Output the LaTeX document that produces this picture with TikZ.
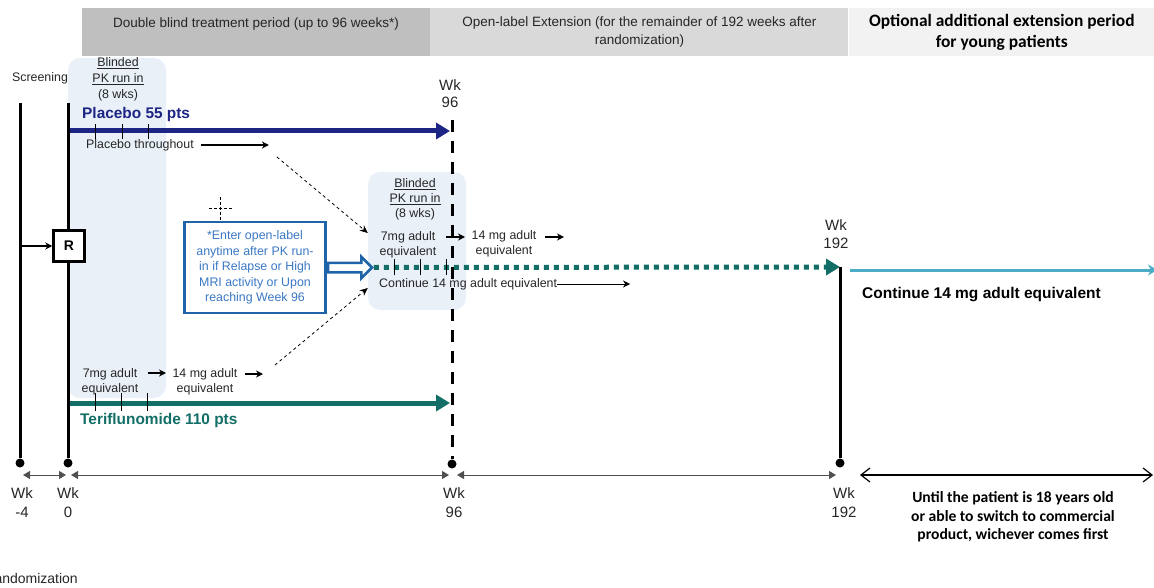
\documentclass[tikz,border=0pt]{standalone}
\usepackage{fontspec}
\setmainfont{Liberation Sans}
\newfontfamily\calibri{Carlito}
\usetikzlibrary{arrows.meta,positioning,shapes.arrows}
\definecolor{hdrdark}{RGB}{191,191,191}
\definecolor{hdrmid}{RGB}{217,217,217}
\definecolor{hdrlight}{RGB}{242,242,242}
\definecolor{pkfill}{RGB}{234,240,248}
\definecolor{navy}{RGB}{28,36,132}
\definecolor{teri}{RGB}{18,110,102}
\definecolor{ext}{RGB}{75,172,198}
\definecolor{notebd}{RGB}{31,100,168}
\definecolor{notetx}{RGB}{58,120,196}
\definecolor{spangray}{RGB}{80,80,80}
\definecolor{txt}{RGB}{38,38,38}
\tikzset{
    hdr/.style =    {rectangle,
                    minimum height=48pt,
                    inner sep=0pt,
                    align=center,
                    text=txt,
                    font=\fontsize{13.5}{18}\selectfont},
    lbl/.style =    {inner sep=0pt,
                    align=center,
                    text=txt,
                    font=\fontsize{12.4}{15}\selectfont},
    wk/.style =     {inner sep=0pt,
                    align=center,
                    text=txt,
                    font=\fontsize{15}{19}\selectfont},
    arm/.style =    {inner sep=0pt,
                    anchor=west,
                    font=\bfseries\fontsize{15.4}{18}\selectfont},
    pk/.style =     {rectangle,
                    rounded corners=12pt,
                    fill=pkfill},
    wkline/.style = {line width=3pt},
    wkdot/.style =  {circle,
                    fill=black,
                    inner sep=0pt,
                    minimum size=9pt},
    armline/.style = {line width=5pt,
                    -{Triangle[length=14pt,width=16pt]}},
    dose/.style =   {-{Stealth[length=7pt,width=7pt]},
                    line width=1.2pt},
    cross/.style =  {dashed,
                    line width=0.8pt,
                    -{Stealth[length=8pt,width=7pt]}},
    tick/.style =   {line width=0.7pt},
    span/.style =   {{Triangle[length=7pt,width=8pt]}-{Triangle[length=7pt,width=8pt]},
                    draw=spangray,
                    line width=1pt}
}
\begin{document}
\begin{tikzpicture}[x=1pt,y=-1pt]
    \useasboundingbox (0,0) rectangle (1154,588);

    % period headers
    \node[hdr, fill=hdrdark, minimum width=348pt]   (dbl) at (256,32)   {Double blind treatment period (up to 96 weeks*)\\ \mbox{}};
    \node[hdr, fill=hdrmid, minimum width=418pt, right=0pt of dbl]  (ole)   {Open-label Extension (for the remainder of 192 weeks after\\randomization)};
    \node[hdr, fill=hdrlight, minimum width=306pt, right=0pt of ole, text=black,
          font=\calibri\bfseries\fontsize{17.4}{21}\selectfont]  (opt)   {Optional additional extension period\\for young patients};

    % PK run in shading
    \node[pk, minimum width=98pt, minimum height=340pt]  (pk1) at (117,228) {};
    \node[pk, minimum width=98pt, minimum height=138pt]  (pk2) at (417,241) {};

    % time points
    \coordinate (t4)   at (20,103);
    \coordinate (t0)   at (68,103);
    \coordinate (e192) at (840,267);
    \node[wkdot] (d4)   at (20,463)  {};
    \node[wkdot] (d0)   at (68,463)  {};
    \node[wkdot] (d96)  at (452,464) {};
    \node[wkdot] (d192) at (840,463) {};

    \draw[wkline] (t4) -- (d4);
    \draw[wkline] (t0) -- (d0);
    \draw[wkline, dash pattern=on 12pt off 9pt] (452,120) -- (d96);
    \draw[wkline] (e192) -- (d192);

    \node[lbl] (scr) at (40,78) {Screening};
    \node[lbl, font=\fontsize{12.4}{16}\selectfont] (pk1t) at (118,79) {\underline{Blinded}\\\underline{PK run in}\\(8 wks)};
    \node[wk, font=\fontsize{15}{17}\selectfont] (w96t)  at (450,93.5) {Wk\\96};
    \node[wk, font=\fontsize{15}{18}\selectfont] (w192t) at (836,234)  {Wk\\192};

    % randomization
    \node[draw, line width=2.5pt, fill=white, minimum size=31pt, inner sep=0pt,
          font=\bfseries\fontsize{14}{14}\selectfont] (R) at (69,246) {R};
    \draw[dose] (t4 |- R.west) -- (R.west);

    % placebo arm
    \node[arm, text=navy] (plc) at (82,115) {Placebo 55 pts};
    \draw[armline, navy] (70,131) -- (450,131);
    \draw[tick] (95,124) -- (95,139);
    \draw[tick] (122,124) -- (122,139);
    \draw[tick] (148,124) -- (148,139);
    \node[lbl, anchor=west] (plth) at (86,145) {Placebo throughout};
    \draw[dose] ([xshift=7pt]plth.east) -- ++(68,0) coordinate (plend);
    \draw[cross] ([shift={(8,12)}]plend) -- ([shift={(0,-8)}]pk2.west);

    % teriflunomide arm
    \node[lbl] (d7a)  at (110,381.5) {7mg adult\\equivalent};
    \draw[dose] (148,373) -- (166,373);
    \node[lbl] (d14a) at (205,381.5) {14 mg adult\\equivalent};
    \draw[dose] (245,374) -- (263,374) coordinate (teend);
    \draw[cross] ([shift={(12,-9)}]teend) -- ([shift={(0,47)}]pk2.west);
    \draw[armline, teri] (70,403) -- (450,403);
    \draw[tick] (95,393) -- (95,411);
    \draw[tick] (121,393) -- (121,411);
    \draw[tick] (147,393) -- (147,411);
    \node[arm, text=teri] (ter) at (80,421) {Teriflunomide 110 pts};

    % open-label entry
    \draw[densely dashed, line width=0.6pt] (220,197) -- (220,220) (209,208) -- (233,208);
    \node[draw=notebd, line width=2.5pt, fill=white, text=notetx, align=center,
          minimum width=141pt, minimum height=91pt, inner sep=0pt,
          font=\fontsize{12.4}{15.6}\selectfont] (note) at (255,267.5)
          {*Enter open-label\\anytime after PK run-\\in if Relapse or High\\MRI activity or Upon\\reaching Week 96};
    \node[single arrow, draw=notebd, line width=2.5pt, fill=white, inner sep=3.5pt,
          single arrow head extend=6pt, minimum height=44pt, anchor=tail] (hol) at (note.east) {};

    \node[lbl] (pk2t) at (415,199) {\underline{Blinded}\\\underline{PK run in}\\(8 wks)};
    \node[lbl] (d7b)  at (408,244.5) {7mg adult\\equivalent};
    \draw[dose] (446,237) -- (465,237);
    \node[lbl] (d14b) at (504,244) {14 mg adult\\equivalent};
    \draw[dose] (545,237) -- (564,237);

    \draw[line width=5pt, teri, dash pattern=on 5pt off 5pt,
          -{Triangle[length=14pt,width=16pt]}] (hol.tip) -- (e192);
    \draw[tick] (394,259) -- (394,275);
    \draw[tick] (420,259) -- (420,275);
    \draw[tick] (446,259) -- (446,275);
    \node[lbl, anchor=west] (cont) at (379,284) {Continue 14 mg adult equivalent};
    \draw[dose, line width=0.9pt] (cont.east) -- (630,284);

    % optional extension
    \draw[ext, line width=3pt, -{Stealth[length=9pt,width=11pt]}] (850,270) -- (1157,270);
    \node[anchor=west, inner sep=0pt, font=\bfseries\fontsize{15.5}{18}\selectfont] (cont2) at (862,295) {Continue 14 mg adult equivalent};

    % time axis
    \draw[span] (23,475) -- (66,475);
    \draw[span] (71,475) -- (449,475);
    \draw[span] (457,475) -- (836,475);
    \draw[{Straight Barb[length=9pt,width=14pt]}-{Straight Barb[length=9pt,width=14pt]}, line width=1.2pt] (860,475) -- (1153,475);

    \node[wk] (w4)   at (22,502.5)  {Wk\\-4};
    \node[wk] (w0)   at (68,502.5)  {Wk\\0};
    \node[wk] (w96)  at (454,502.5) {Wk\\96};
    \node[wk] (w192) at (844,502.5) {Wk\\192};
    \node[align=center, inner sep=0pt, font=\calibri\bfseries\fontsize{15.6}{18.5}\selectfont] (until) at (1013,517)
          {Until the patient is 18 years old\\or able to switch to commercial\\product, wichever comes first};

    \node[lbl, anchor=east, font=\fontsize{14}{16}\selectfont] (rnd) at (78,578) {Randomization};
\end{tikzpicture}
\end{document}
